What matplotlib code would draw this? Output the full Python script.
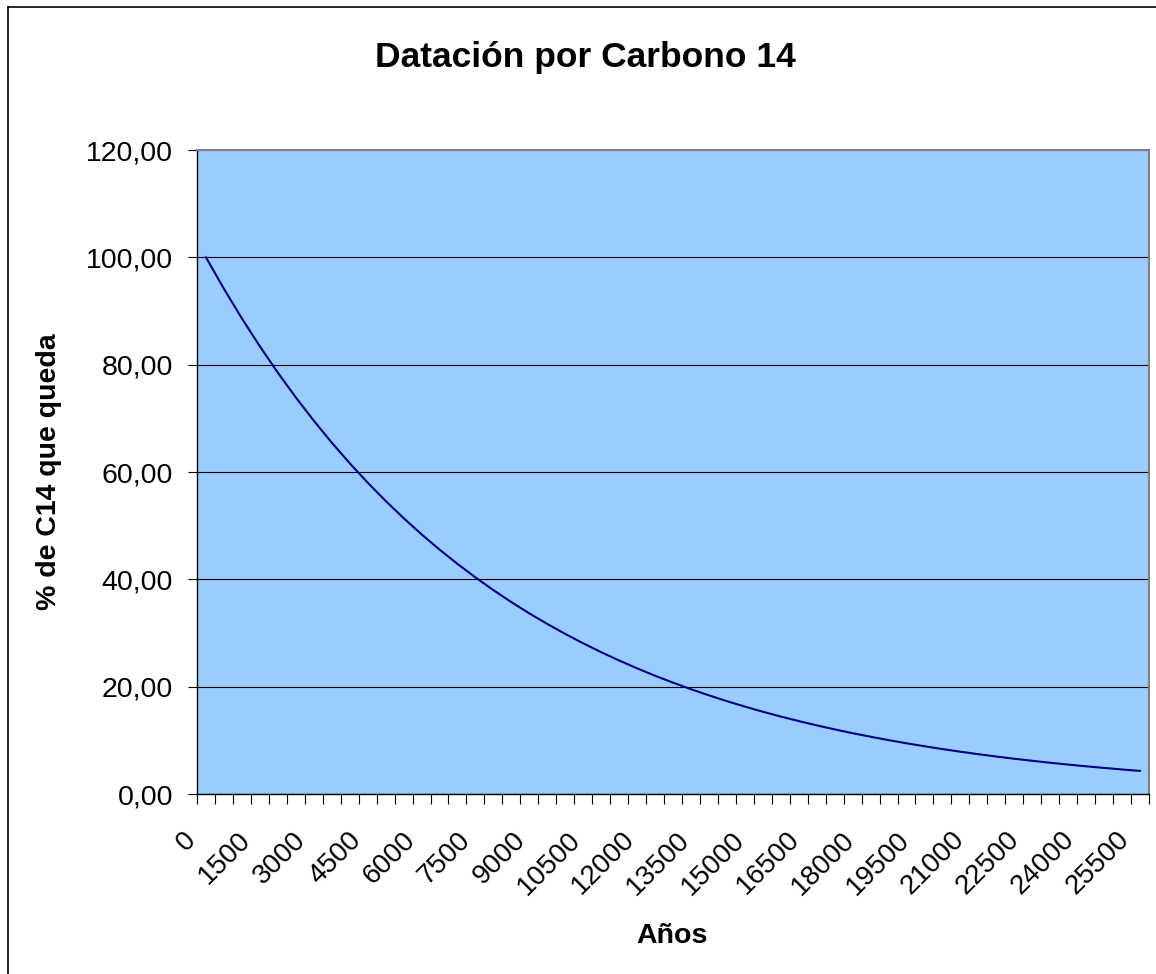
import matplotlib
matplotlib.use("Agg")
import matplotlib.pyplot as plt
from matplotlib.lines import Line2D
from matplotlib.transforms import ScaledTranslation

plt.rcParams['font.family'] = ['Liberation Sans', 'DejaVu Sans']

# años (categorias del eje x)
anios = [0, 500, 1000, 1500, 2000, 2500, 3000, 3500, 4000, 4500,
         5000, 5500, 6000, 6500, 7000, 7500, 8000, 8500, 9000, 9500,
         10000, 10500, 11000, 11500, 12000, 12500, 13000, 13500, 14000, 14500,
         15000, 15500, 16000, 16500, 17000, 17500, 18000, 18500, 19000, 19500,
         20000, 20500, 21000, 21500, 22000, 22500, 23000, 23500, 24000, 24500,
         25000, 25500, 26000]

# % de C14 que queda
c14 = [100.00, 94.13, 88.61, 83.41, 78.51, 73.90, 69.57, 65.48, 61.64, 58.02,
       54.62, 51.41, 48.39, 45.55, 42.88, 40.36, 37.99, 35.76, 33.66, 31.69,
       29.83, 28.08, 26.43, 24.88, 23.42, 22.04, 20.75, 19.53, 18.38, 17.30,
       16.29, 15.33, 14.43, 13.59, 12.79, 12.04, 11.33, 10.67, 10.04, 9.45,
       8.90, 8.37, 7.88, 7.42, 6.98, 6.57, 6.19, 5.82, 5.48, 5.16,
       4.86, 4.57, 4.30]

yticks = [0, 20, 40, 60, 80, 100, 120]
ylabels = ['0,00', '20,00', '40,00', '60,00', '80,00', '100,00', '120,00']

W, H = 1156, 974
fig = plt.figure(figsize=(W / 100, H / 100), dpi=100)
ax = fig.add_axes([197 / W, 1 - 794 / H, (1149 - 197) / W, (794 - 150) / H])
ax.set_facecolor('#99ccff')

x = list(range(len(anios)))
ax.plot(x, c14, color='#000080', lw=1.5)

ax.set_xlim(-0.5, len(anios) - 0.5)
ax.set_ylim(0, 120)
ax.set_yticks(yticks, ylabels)
ax.grid(axis='y', color='black', lw=0.8)
ax.set_axisbelow(True)

# marcas entre categorias, etiquetas cada 3
ax.set_xticks([i - 0.5 for i in range(len(anios) + 1)], minor=True)
ax.set_xticks(x[::3], [str(a) for a in anios[::3]])
ax.tick_params(axis='x', which='minor', length=7.2, width=0.8, color='black')
ax.tick_params(axis='x', which='major', length=0, pad=23.5, labelsize=20)
ax.tick_params(axis='y', length=6.5, width=0.8, pad=10.8, labelsize=20.5)
lbls = ax.get_xticklabels()
for i, lbl in enumerate(lbls):
    # excel reparte las etiquetas un poco mas abiertas que las marcas
    dx = -0.23 + 0.167 * i / (len(lbls) - 1)
    lbl.set_rotation(45)
    lbl.set_ha('right')
    lbl.set_va('top')
    lbl.set_rotation_mode('anchor')
    lbl.set_transform(lbl.get_transform() + ScaledTranslation(dx, 0, fig.dpi_scale_trans))

for s in ['left', 'bottom']:
    ax.spines[s].set_color('black')
    ax.spines[s].set_linewidth(1)
for s in ['top', 'right']:
    ax.spines[s].set_color('#808080')
    ax.spines[s].set_linewidth(1.5)

fig.text(585 / W, 1 - 58 / H, 'Datación por Carbono 14', ha='center', va='center',
         fontsize=25.5, weight='bold')
fig.text(49 / W, 1 - 472 / H, '% de C14 que queda', rotation=90, ha='center',
         va='center', fontsize=20.5, weight='bold')
fig.text(672 / W, 1 - 936 / H, 'Años', ha='center', va='center',
         fontsize=20.5, weight='bold')

# borde del area del grafico
fig.add_artist(Line2D([8 / W, 8 / W], [0, 1 - 7 / H], transform=fig.transFigure,
                      color='black', lw=1.2))
fig.add_artist(Line2D([8 / W, 1], [1 - 7 / H, 1 - 7 / H], transform=fig.transFigure,
                      color='black', lw=1.2))

fig.savefig('out.png', dpi=100)
